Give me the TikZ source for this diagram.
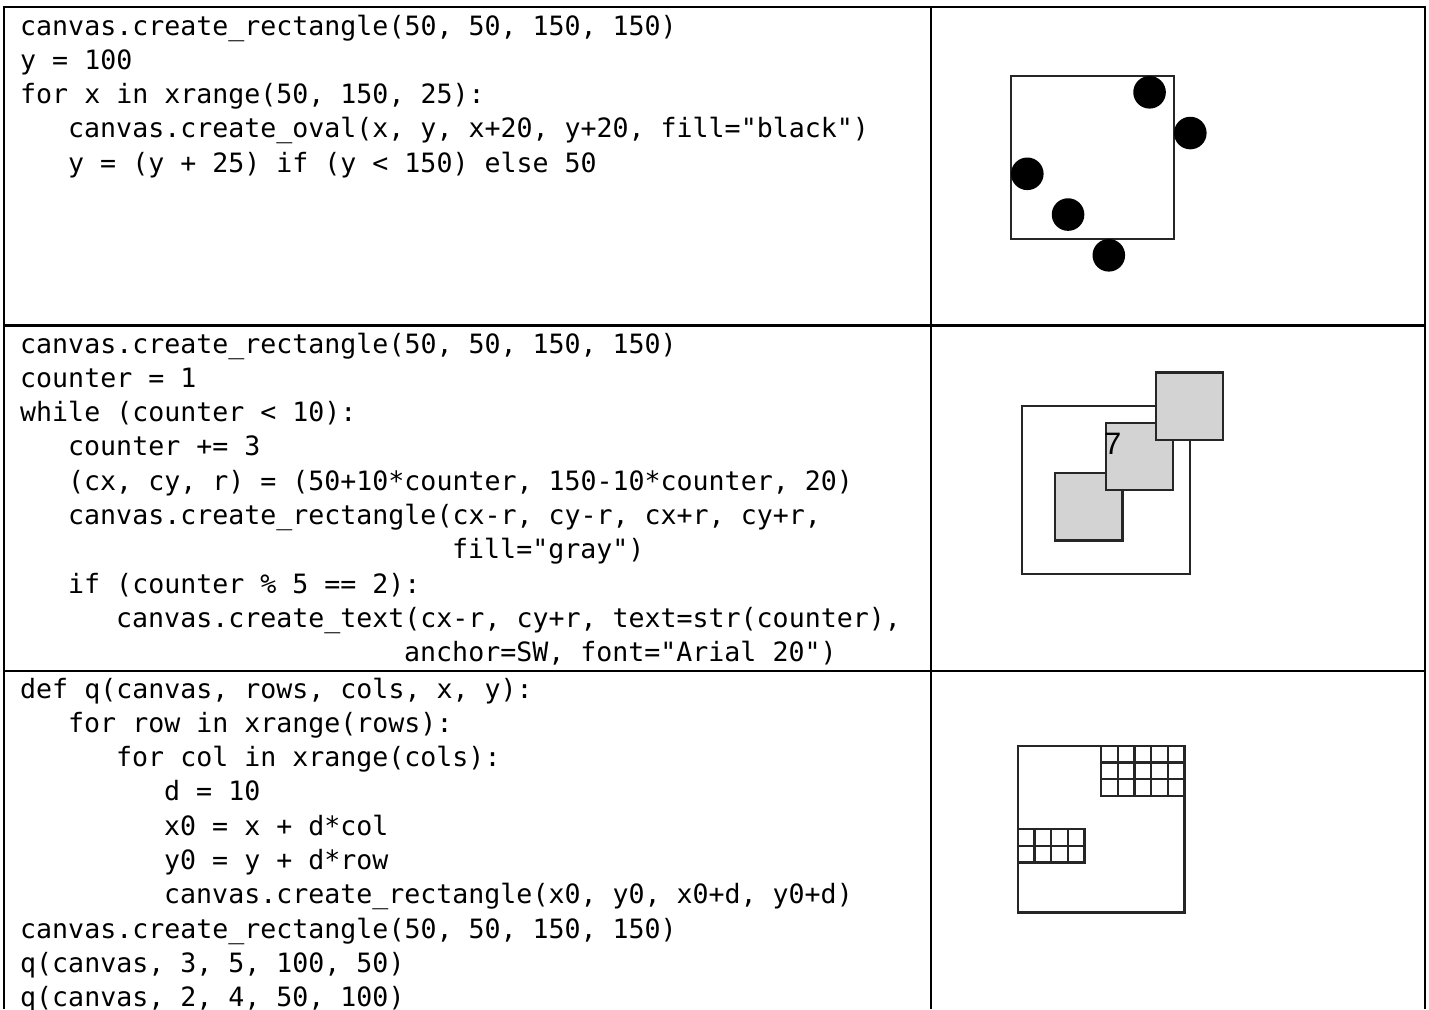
\documentclass[tikz,border=0pt]{standalone}
\usepackage{fontspec}
\setmonofont{DejaVu Sans Mono}
\setsansfont{Liberation Sans}
\frenchspacing

\newcommand{\codefont}{\fontsize{26.6}{34.3}\selectfont\ttfamily}
\newcommand{\labelfont}{\fontsize{31}{31}\selectfont\sffamily}
\definecolor{boxgray}{RGB}{211,211,211}

\tikzset{
  code/.style={anchor=base west, inner sep=0pt, font=\codefont},
  rule/.style={line width=2.2pt, black},
  outline/.style={line width=2.2pt, draw=black!85},
}

\begin{document}
\begin{tikzpicture}[x=1pt, y=-1pt]
  \useasboundingbox (0,0) rectangle (1429,1009);

  % table rules
  \draw[rule] (4,1009) |- (1425,7) -- (1425,1009);
  \draw[rule] (931,7) -- (931,1009);
  \draw[rule] (4,325.5) -- (1425,325.5);
  \draw[rule] (4,671) -- (1425,671);

  % first row: code
  \node[code] (a1) at (20,35) {canvas.create\_rectangle(50, 50, 150, 150)};
  \node[code] (a2) at (20,69.3) {y = 100};
  \node[code] (a3) at (20,103.6) {for x in xrange(50, 150, 25):};
  \node[code] (a4) at (68,137.9) {canvas.create\_oval(x, y, x+20, y+20, fill="black")};
  \node[code] (a5) at (68,172.2) {y = (y + 25) if (y < 150) else 50};

  % second row: code
  \node[code] (b1) at (20,353) {canvas.create\_rectangle(50, 50, 150, 150)};
  \node[code] (b2) at (20,387.3) {counter = 1};
  \node[code] (b3) at (20,421.6) {while (counter < 10):};
  \node[code] (b4) at (68,455.9) {counter += 3};
  \node[code] (b5) at (68,490.2) {(cx, cy, r) = (50+10*counter, 150-10*counter, 20)};
  \node[code] (b6) at (68,524.5) {canvas.create\_rectangle(cx-r, cy-r, cx+r, cy+r,};
  \node[code] (b7) at (452,558.8) {fill="gray")};
  \node[code] (b8) at (68,593.1) {if (counter \% 5 == 2):};
  \node[code] (b9) at (116,627.4) {canvas.create\_text(cx-r, cy+r, text=str(counter),};
  \node[code] (b10) at (404,661.7) {anchor=SW, font="Arial 20")};

  % third row: code
  \node[code] (c1) at (20,698) {def q(canvas, rows, cols, x, y):};
  \node[code] (c2) at (68,732.3) {for row in xrange(rows):};
  \node[code] (c3) at (116,766.6) {for col in xrange(cols):};
  \node[code] (c4) at (164,800.9) {d = 10};
  \node[code] (c5) at (164,835.2) {x0 = x + d*col};
  \node[code] (c6) at (164,869.5) {y0 = y + d*row};
  \node[code] (c7) at (164,903.8) {canvas.create\_rectangle(x0, y0, x0+d, y0+d)};
  \node[code] (c8) at (20,938.1) {canvas.create\_rectangle(50, 50, 150, 150)};
  \node[code] (c9) at (20,972.4) {q(canvas, 3, 5, 100, 50)};
  \node[code] (c10) at (20,1006.7) {q(canvas, 2, 4, 50, 100)};

  % first canvas: dots
  \begin{scope}[shift={(929.5,-5.5)}, x=1.63pt, y=-1.63pt]
    \draw[outline] (50,50) rectangle (150,150);
    \foreach \cx/\cy in {60/110, 85/135, 110/160, 135/60, 160/85}
      \fill (\cx,\cy) circle[radius=10];
  \end{scope}

  % second canvas: gray squares
  \begin{scope}[shift={(937.7,322)}, x=1.68pt, y=-1.68pt]
    \draw[outline] (50,50) rectangle (150,150);
    \draw[outline, fill=boxgray] (70,90) rectangle (110,130);
    \draw[outline, fill=boxgray] (100,60) rectangle (140,100);
    \node[anchor=base west, inner sep=0pt, font=\labelfont] (seven) at (99,78.6) {7};
    \draw[outline, fill=boxgray] (130,30) rectangle (170,70);
  \end{scope}

  % third canvas: grids
  \begin{scope}[shift={(934.4,662.4)}, x=1.667pt, y=-1.667pt]
    \draw[outline] (50,50) rectangle (150,150);
    \foreach \row in {0,1,2}
      \foreach \col in {0,...,4}
        \draw[outline] (100+10*\col,50+10*\row) rectangle ++(10,10);
    \foreach \row in {0,1}
      \foreach \col in {0,...,3}
        \draw[outline] (50+10*\col,100+10*\row) rectangle ++(10,10);
  \end{scope}
\end{tikzpicture}
\end{document}
